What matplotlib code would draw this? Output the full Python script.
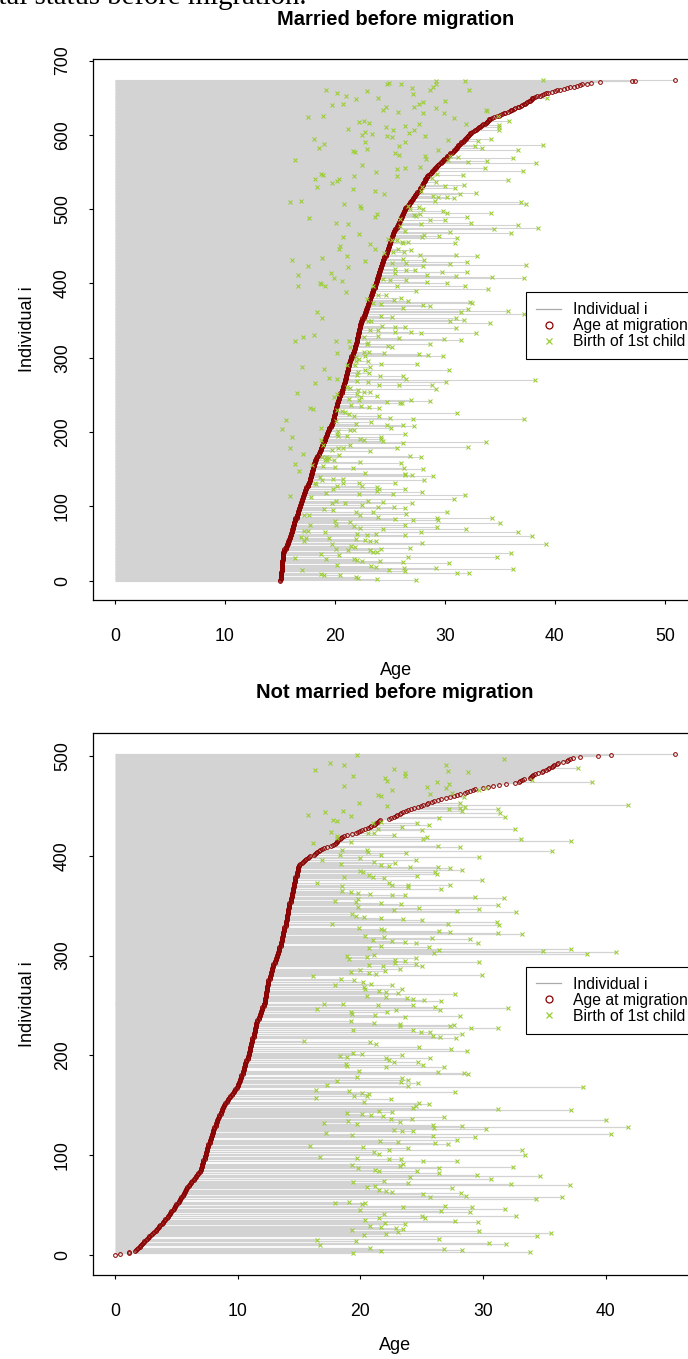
import numpy as np
import matplotlib
matplotlib.use("Agg")
import matplotlib.pyplot as plt
from matplotlib.lines import Line2D

plt.rcParams["font.family"] = ["Liberation Sans", "DejaVu Sans"]

W, H = 688, 1359

# ---------------------------------------------------------------------------
# Married before migration: age at migration per individual (sorted)
mig_married = [
    15.0, 15.0, 15.1, 15.1, 15.1,
    15.1, 15.1, 15.1, 15.1, 15.1, 15.1, 15.1, 15.1,
    15.2, 15.2, 15.2, 15.2, 15.2, 15.2, 15.2, 15.2, 15.2, 15.2, 15.2, 15.2, 15.2, 15.2, 15.2,
    15.3, 15.3, 15.3, 15.3, 15.3, 15.3, 15.3, 15.3, 15.3, 15.3,
    15.3, 15.4, 15.4, 15.4, 15.4, 15.5, 15.5, 15.5, 15.5, 15.6, 15.6, 15.6, 15.7, 15.7, 15.7, 15.7,
    15.8, 15.8, 15.8, 15.9, 15.9, 15.9, 15.9, 16.0, 16.0, 16.0, 16.0,
    16.1, 16.1, 16.1, 16.1, 16.1, 16.2, 16.2, 16.2, 16.2, 16.2, 16.3, 16.3, 16.3, 16.3, 16.3,
    16.4, 16.4, 16.4, 16.4, 16.4, 16.5, 16.5, 16.5, 16.5, 16.5, 16.6, 16.6, 16.6, 16.6, 16.6,
    16.7, 16.7, 16.7, 16.7, 16.8, 16.8,
    16.8, 16.8, 16.9, 16.9, 16.9, 16.9, 17.0, 17.0, 17.0, 17.0, 17.1, 17.1, 17.1, 17.1,
    17.2, 17.2, 17.2, 17.2, 17.3, 17.3, 17.3, 17.3, 17.4, 17.4, 17.4, 17.4, 17.5, 17.5, 17.5, 17.5,
    17.6, 17.6, 17.6, 17.7, 17.7,
    17.7, 17.7, 17.7, 17.8, 17.8, 17.8, 17.8, 17.8, 17.9, 17.9, 17.9, 17.9, 17.9,
    18.0, 18.0, 18.0, 18.0, 18.0, 18.1, 18.1, 18.1, 18.1, 18.1, 18.2, 18.2, 18.2, 18.2,
    18.3, 18.3, 18.3, 18.4, 18.4, 18.4, 18.5, 18.5, 18.5, 18.5, 18.6, 18.6, 18.6,
    18.7, 18.7, 18.7, 18.7, 18.8, 18.8, 18.8, 18.9, 18.9, 18.9,
    19.0, 19.0, 19.0, 19.1, 19.1, 19.1, 19.1, 19.2, 19.2, 19.2, 19.3, 19.3, 19.3, 19.3,
    19.4, 19.4, 19.4, 19.5, 19.5, 19.5, 19.5, 19.6, 19.6, 19.6, 19.7, 19.7, 19.7,
    19.8, 19.8, 19.8, 19.8, 19.8, 19.9, 19.9, 19.9, 19.9, 19.9, 19.9, 20.0, 20.0, 20.0, 20.0, 20.0, 20.0,
    20.1, 20.1, 20.1, 20.1, 20.1, 20.2, 20.2, 20.2, 20.2, 20.2, 20.3, 20.3, 20.3, 20.3,
    20.4, 20.4, 20.4, 20.4, 20.5, 20.5, 20.5, 20.5, 20.5, 20.6, 20.6, 20.6, 20.6, 20.6,
    20.7, 20.7, 20.7, 20.7, 20.7, 20.8, 20.8, 20.8, 20.8, 20.9, 20.9, 20.9, 20.9,
    20.9, 21.0, 21.0, 21.0, 21.0, 21.0, 21.0, 21.1, 21.1, 21.1, 21.1, 21.1,
    21.2, 21.2, 21.2, 21.2, 21.2, 21.2, 21.3, 21.3, 21.3, 21.3, 21.3, 21.4, 21.4, 21.4, 21.4,
    21.5, 21.5, 21.5, 21.5, 21.5, 21.6, 21.6, 21.6, 21.6, 21.6, 21.7, 21.7, 21.7, 21.7,
    21.8, 21.8, 21.8, 21.8, 21.8, 21.9, 21.9, 21.9, 21.9, 22.0, 22.0, 22.0, 22.0,
    22.0, 22.0, 22.0, 22.1, 22.1, 22.1, 22.1, 22.1, 22.1, 22.2, 22.2, 22.2, 22.2, 22.2, 22.2,
    22.3, 22.3, 22.3, 22.3, 22.3, 22.3,
    22.4, 22.4, 22.4, 22.4, 22.5, 22.5, 22.5, 22.5, 22.6, 22.6, 22.6, 22.6, 22.7, 22.7, 22.7, 22.7,
    22.8, 22.8, 22.8, 22.8, 22.9, 22.9, 22.9, 22.9, 23.0, 23.0, 23.0, 23.0, 23.1, 23.1, 23.1, 23.1,
    23.2, 23.2, 23.2, 23.2, 23.3, 23.3, 23.3, 23.4, 23.4, 23.4, 23.4, 23.5, 23.5, 23.5,
    23.5, 23.5, 23.6, 23.6, 23.6, 23.6, 23.6, 23.7, 23.7, 23.7, 23.7, 23.8, 23.8, 23.8, 23.8, 23.8,
    23.9, 23.9, 23.9, 23.9, 24.0, 24.0, 24.0, 24.0, 24.0, 24.1, 24.1, 24.1, 24.1,
    24.2, 24.2, 24.2, 24.2, 24.3, 24.3, 24.3, 24.3, 24.4, 24.4, 24.4,
    24.4, 24.5, 24.5, 24.5, 24.5, 24.6, 24.6, 24.6, 24.6, 24.7, 24.7, 24.7, 24.7,
    24.8, 24.8, 24.8, 24.8, 24.9, 24.9, 24.9, 24.9, 25.0, 25.0, 25.0, 25.0,
    25.1, 25.1, 25.1, 25.1, 25.2, 25.2, 25.2, 25.2, 25.3, 25.3, 25.3, 25.3,
    25.4, 25.4, 25.4, 25.5, 25.5, 25.5, 25.6, 25.6, 25.6, 25.7, 25.7, 25.7, 25.8, 25.8, 25.8,
    25.9, 25.9, 25.9, 26.0, 26.0, 26.0, 26.1, 26.1, 26.1, 26.2, 26.2, 26.2, 26.3, 26.3, 26.3,
    26.4, 26.4, 26.4, 26.5, 26.5,
    26.6, 26.6, 26.7, 26.7, 26.8, 26.8, 26.9, 26.9, 27.0, 27.0, 27.1, 27.1, 27.2, 27.2,
    27.3, 27.3, 27.4, 27.4,
    27.5, 27.5, 27.6, 27.6, 27.7, 27.7, 27.7, 27.8, 27.8, 27.9, 27.9, 28.0, 28.0, 28.0,
    28.1, 28.1, 28.2, 28.2, 28.2, 28.3, 28.3, 28.4, 28.4, 28.5, 28.5, 28.6, 28.6,
    28.7, 28.8, 28.8, 28.9, 29.0, 29.0, 29.1, 29.2, 29.2, 29.3, 29.4, 29.4, 29.5, 29.6, 29.6,
    29.7, 29.8, 29.8,
    29.9, 30.0, 30.1, 30.2, 30.2, 30.3, 30.4, 30.5, 30.5, 30.6, 30.7, 30.8, 30.8, 30.9, 31.0,
    31.0, 31.1, 31.1,
    31.2, 31.2, 31.3, 31.4, 31.5, 31.5, 31.6, 31.7, 31.7, 31.8, 31.9, 31.9, 32.0, 32.1, 32.1,
    32.2, 32.3, 32.3,
    32.4, 32.5, 32.6, 32.7, 32.8, 32.9, 33.0, 33.1, 33.2, 33.3, 33.4, 33.5, 33.6, 33.7, 33.8,
    33.8, 33.9, 34.0, 34.0, 34.1,
    34.3, 34.5, 34.7, 34.9, 35.0, 35.2, 35.4, 35.5, 35.7, 35.9, 36.0,
    36.1, 36.3, 36.4, 36.6, 36.7, 36.9, 37.0, 37.2, 37.3,
    37.4, 37.5, 37.6, 37.7, 37.8, 37.9, 37.9, 38.0,
    38.2, 38.4, 38.6, 38.8, 39.0, 39.2,
    39.4, 39.7, 40.0, 40.2, 40.5, 40.8, 41.1, 41.4,
    41.7, 42.0, 42.3, 42.5, 42.9, 43.3, 44.1, 47.0, 47.3, 50.9,
]

# Married: individual index and age at birth of first child
child_idx_married = [
    349, 350, 349, 351, 347, 343, 342, 342, 340, 337, 337, 335, 335, 334, 333,
    323, 328, 331, 322, 322, 328, 329, 326, 319, 325, 324, 319, 320, 316, 315,
    314, 307, 308, 308, 306, 305, 304, 302, 301, 298, 302, 295, 295, 292, 291,
    290, 290, 288, 287, 285, 284, 281, 283, 279, 273, 272, 277, 276, 275, 271,
    269, 268, 267, 270, 266, 264, 263, 263, 261, 260, 257, 254, 254, 258, 252,
    251, 247, 251, 247, 249, 245, 243, 240, 239, 239, 243, 242, 236, 235, 234,
    233, 232, 231, 230, 228, 227, 225, 222, 221, 219, 218, 226, 217, 216, 215,
    214, 204, 206, 211, 210, 205, 209, 208, 202, 203, 203, 193, 189, 198, 195,
    195, 191, 189, 194, 191, 188, 198, 179, 182, 176, 178, 179, 183, 178, 185,
    180, 186, 174, 171, 167, 167, 165, 169, 168, 167, 163, 163, 163, 157, 156,
    155, 153, 151, 160, 158, 151, 150, 147, 140, 136, 137, 137, 145, 144, 142,
    142, 141, 136, 131, 130, 128, 132, 132, 127, 131, 124, 126, 123, 114, 113,
    118, 123, 117, 121, 116, 119, 115, 110, 104, 107, 104, 102, 107, 106, 99,
    105, 95, 96, 93, 92, 99, 98, 90, 88, 89, 88, 86, 83, 82, 84,
    93, 82, 84, 77, 75, 80, 75, 79, 74, 71, 70, 75, 72, 69, 67,
    67, 66, 59, 54, 57, 57, 63, 62, 63, 61, 66, 65, 60, 56, 55,
    54, 53, 51, 50, 49, 43, 41, 47, 46, 41, 38, 38, 43, 44, 36,
    37, 35, 29, 30, 29, 28, 27, 27, 25, 32, 24, 32, 21, 20, 19,
    15, 14, 17, 13, 17, 11, 10, 16, 9, 8, 7, 5, 4, 2, 1,
    668, 670, 669, 663, 661, 665, 669, 672, 673, 661, 674, 649, 660, 657, 653,
    648, 659, 649, 655, 642, 644, 645, 640, 642, 633, 638, 631, 637, 636, 630,
    629, 623, 634, 632, 624, 626, 617, 619, 616, 612, 615, 615, 625, 619, 611,
    607, 613, 608, 611, 606, 607, 600, 604, 601, 598, 597, 602, 599, 594, 588,
    582, 591, 581, 585, 590, 593, 592, 594, 585, 583, 580, 587, 578, 577, 576,
    573, 579, 566, 559, 572, 568, 557, 556, 554, 571, 566, 570, 563, 565, 555,
    569, 552, 562, 541, 548, 546, 535, 538, 540, 544, 550, 545, 542, 547, 537,
    546, 539, 530, 527, 524, 520, 524, 530, 531, 529, 533, 518, 516, 516, 520,
    515, 522, 509, 511, 507, 504, 502, 504, 500, 503, 500, 511, 497, 495, 495,
    510, 507, 488, 482, 480, 494, 490, 487, 492, 491, 493, 480, 485, 485, 489,
    482, 474, 479, 475, 478, 470, 463, 466, 453, 447, 460, 459, 459, 456, 454,
    456, 463, 465, 464, 469, 454, 461, 468, 446, 450, 437, 430, 441, 443, 446,
    443, 445, 433, 427, 439, 432, 438, 437, 431, 434, 424, 422, 428, 420, 414,
    418, 418, 423, 411, 426, 429, 415, 416, 425, 412, 397, 400, 399, 396, 414,
    407, 403, 388, 397, 406, 405, 396, 405, 390, 402, 401, 410, 409, 408, 393,
    396, 361, 353, 379, 374, 384, 373, 384, 378, 380, 376, 371, 370, 367, 375,
    374, 365, 362, 363, 359, 356, 355, 354,
]
child_age_married = [
    23.0, 23.3, 30.5, 31.7, 34.1, 24.3, 25.5, 26.4, 31.0, 23.2, 23.9, 25.5, 26.9, 27.8, 32.8,
    16.4, 17.1, 18.1, 20.1, 21.3, 22.6, 23.9, 25.8, 28.6, 29.9, 31.5, 22.9, 23.0, 24.8, 25.2,
    21.4, 20.2, 22.6, 23.1, 24.5, 27.6, 28.5, 29.8, 21.9, 22.2, 22.7, 21.9, 23.0, 24.2, 27.5,
    21.1, 21.8, 23.2, 17.0, 19.0, 22.7, 22.1, 30.4, 23.1, 19.5, 20.2, 22.0, 24.1, 26.2, 26.5,
    22.0, 23.0, 30.1, 38.2, 18.2, 24.0, 25.8, 28.8, 21.1, 21.4, 22.1, 22.6, 23.2, 29.2, 16.5,
    20.2, 19.9, 22.0, 22.4, 23.8, 21.3, 22.2, 24.7, 25.9, 26.1, 26.9, 28.6, 21.5, 22.4, 23.1,
    24.0, 17.7, 18.0, 20.2, 20.6, 20.9, 21.3, 21.7, 24.0, 25.0, 27.1, 31.1, 37.2, 15.5, 20.1,
    23.3, 15.2, 18.7, 21.9, 24.7, 25.1, 26.2, 27.2, 20.3, 21.4, 21.7, 16.1, 18.7, 20.2, 21.1,
    20.3, 22.3, 22.6, 24.2, 24.2, 24.4, 26.4, 15.9, 18.9, 19.7, 20.3, 20.7, 21.4, 25.6, 26.2,
    32.1, 33.7, 23.2, 17.1, 18.8, 19.2, 19.5, 20.4, 26.8, 27.8, 19.1, 19.3, 19.9, 16.4, 17.9,
    18.9, 20.0, 21.6, 22.3, 26.0, 26.3, 28.0, 16.7, 18.6, 18.8, 19.8, 20.7, 22.7, 26.4, 26.4,
    27.0, 28.9, 28.1, 18.2, 18.3, 20.2, 20.7, 22.2, 22.5, 25.5, 26.4, 23.8, 24.0, 15.9, 17.8,
    19.2, 19.8, 22.2, 23.8, 25.3, 27.9, 31.8, 30.8, 19.7, 20.1, 20.9, 22.5, 23.0, 24.4, 25.4,
    27.0, 19.8, 19.0, 21.9, 23.5, 23.9, 26.4, 26.5, 17.2, 17.6, 22.3, 23.9, 25.5, 27.1, 29.3,
    30.2, 29.4, 34.3, 35.0, 17.7, 20.0, 20.1, 21.4, 21.7, 22.3, 24.4, 26.4, 29.3, 31.9, 17.2,
    17.5, 19.1, 16.9, 17.2, 17.4, 19.5, 22.0, 22.9, 23.7, 26.4, 27.8, 36.6, 37.9, 21.9, 22.7,
    23.2, 23.7, 27.9, 39.2, 19.7, 20.1, 21.2, 21.5, 21.8, 23.2, 23.5, 23.8, 24.2, 26.8, 18.7,
    36.0, 20.4, 21.7, 16.4, 19.2, 22.0, 22.5, 24.1, 26.2, 26.6, 30.4, 34.7, 20.2, 23.3, 23.7,
    17.0, 24.9, 26.3, 26.4, 29.2, 31.1, 32.2, 36.2, 18.7, 19.0, 20.5, 21.9, 22.1, 23.8, 27.4,
    24.7, 24.9, 26.0, 27.0, 28.6, 28.9, 29.2, 29.2, 31.8, 32.2, 38.9, 39.3, 19.2, 20.2, 21.0,
    21.9, 22.9, 23.9, 27.1, 27.6, 28.0, 30.0, 19.7, 20.7, 24.4, 24.6, 25.7, 27.2, 29.2, 28.0,
    29.9, 30.8, 33.7, 33.8, 17.5, 18.9, 22.2, 22.6, 23.1, 26.4, 27.6, 31.9, 34.8, 35.8, 34.9,
    34.9, 34.9, 21.2, 24.6, 25.3, 27.2, 22.5, 22.7, 23.4, 24.7, 25.2, 26.7, 28.2, 18.1, 19.0,
    18.5, 22.7, 22.9, 25.8, 26.4, 30.3, 33.0, 34.2, 32.7, 33.4, 36.6, 38.9, 21.6, 21.8, 25.5,
    25.8, 29.4, 16.4, 22.5, 28.2, 28.3, 27.7, 26.4, 25.6, 30.5, 30.3, 31.2, 32.1, 33.8, 33.6,
    36.2, 37.1, 38.3, 18.2, 18.7, 18.9, 19.7, 20.2, 20.4, 21.7, 23.7, 25.6, 28.8, 29.3, 29.2,
    31.6, 35.7, 18.4, 21.6, 23.6, 24.5, 27.8, 27.9, 30.0, 30.9, 31.7, 28.9, 29.4, 30.2, 31.4,
    30.8, 32.8, 15.9, 16.9, 20.8, 22.3, 22.4, 26.6, 26.8, 27.6, 28.0, 29.1, 29.8, 30.2, 34.2,
    36.9, 37.4, 17.6, 20.1, 21.2, 23.8, 23.6, 25.9, 27.2, 27.4, 27.7, 27.8, 28.6, 30.0, 32.0,
    32.4, 34.5, 36.6, 38.5, 25.9, 26.4, 20.7, 22.2, 23.2, 23.6, 24.8, 25.2, 25.6, 26.1, 26.2,
    26.6, 27.9, 28.1, 29.5, 30.5, 30.9, 31.1, 36.0, 20.4, 20.5, 21.1, 22.7, 24.5, 25.3, 25.7,
    26.3, 26.9, 26.2, 26.5, 27.7, 28.1, 31.0, 32.9, 16.1, 18.8, 17.5, 21.2, 25.2, 25.5, 25.5,
    26.5, 27.3, 28.0, 28.4, 30.5, 32.0, 32.0, 29.7, 37.4, 16.6, 16.6, 18.6, 18.7, 19.1, 19.6,
    19.9, 20.6, 21.0, 23.5, 24.4, 25.0, 25.6, 26.5, 27.4, 28.4, 30.2, 31.0, 34.3, 37.2, 33.9,
    31.8, 18.4, 18.8, 22.9, 23.5, 23.9, 24.2, 24.6, 25.4, 26.0, 26.6, 28.0, 28.6, 26.2, 32.3,
    32.5, 32.1, 31.5, 35.7, 37.2, 24.2, 25.2, 31.0,
]

# ---------------------------------------------------------------------------
# Not married before migration: age at migration per individual (sorted)
mig_single = [
    0.0, 0.4, 1.1, 1.1,
    1.6, 1.7, 1.8, 1.9, 2.0, 2.0,
    2.1, 2.2, 2.3, 2.4, 2.4, 2.5, 2.6, 2.7, 2.8, 2.8, 2.9, 3.0, 3.1,
    3.2, 3.3, 3.3, 3.4, 3.5, 3.6, 3.6, 3.7, 3.8, 3.9, 3.9, 4.0, 4.1, 4.1, 4.2,
    4.3, 4.3, 4.4, 4.5, 4.5, 4.6, 4.6, 4.7, 4.8, 4.8, 4.9, 4.9, 5.0, 5.0, 5.1, 5.2, 5.2, 5.3, 5.3,
    5.4, 5.4, 5.5, 5.5, 5.6, 5.6, 5.7, 5.7, 5.8, 5.8, 5.9, 5.9, 6.0, 6.0, 6.1,
    6.2, 6.2, 6.3, 6.4, 6.4, 6.5, 6.6, 6.6, 6.7, 6.8, 6.8, 6.9,
    6.9, 7.0, 7.0, 7.0, 7.1, 7.1, 7.1, 7.1, 7.2, 7.2, 7.2, 7.2, 7.3, 7.3, 7.3,
    7.3, 7.4, 7.4, 7.4, 7.4, 7.5, 7.5, 7.5, 7.5, 7.6, 7.6, 7.6, 7.6, 7.7, 7.7, 7.7, 7.7,
    7.8, 7.8, 7.8, 7.9, 7.9, 7.9, 8.0, 8.0, 8.0, 8.0, 8.1, 8.1, 8.1, 8.2, 8.2, 8.2, 8.2, 8.3, 8.3, 8.3,
    8.4, 8.4, 8.5, 8.5, 8.5, 8.6, 8.6, 8.6, 8.7, 8.7, 8.7, 8.8, 8.8,
    8.9, 8.9, 9.0, 9.0, 9.1, 9.1, 9.2, 9.2, 9.3, 9.4, 9.4, 9.5, 9.5, 9.6,
    9.7, 9.7, 9.8, 9.8, 9.9, 9.9, 10.0, 10.0, 10.0, 10.1, 10.1, 10.2, 10.2,
    10.2, 10.3, 10.3, 10.3, 10.3, 10.4, 10.4, 10.4, 10.4, 10.5, 10.5, 10.5, 10.5,
    10.6, 10.6, 10.6, 10.6, 10.7, 10.7, 10.7,
    10.8, 10.8, 10.8, 10.8, 10.9, 10.9, 10.9, 10.9, 11.0, 11.0, 11.0, 11.0, 11.0,
    11.1, 11.1, 11.1, 11.1,
    11.2, 11.2, 11.2, 11.2, 11.2, 11.3, 11.3, 11.3, 11.3, 11.3, 11.4, 11.4, 11.4, 11.4, 11.4,
    11.5, 11.5, 11.5, 11.5, 11.5,
    11.6, 11.6, 11.6, 11.7, 11.7, 11.7, 11.8, 11.8, 11.8, 11.9, 11.9, 11.9, 12.0, 12.0, 12.0, 12.0,
    12.1, 12.1, 12.1, 12.1,
    12.2, 12.2, 12.2, 12.2, 12.2, 12.2, 12.3, 12.3, 12.3, 12.3, 12.3, 12.3,
    12.4, 12.4, 12.4, 12.4, 12.4, 12.4, 12.5, 12.5, 12.5, 12.5, 12.5, 12.5,
    12.6, 12.6, 12.6, 12.6, 12.7, 12.7, 12.7, 12.7, 12.8, 12.8, 12.8, 12.8, 12.9, 12.9, 12.9, 12.9,
    13.0, 13.0, 13.0, 13.1, 13.1, 13.1, 13.2, 13.2, 13.2, 13.3, 13.3, 13.3, 13.4, 13.4,
    13.4, 13.4, 13.4, 13.5, 13.5, 13.5, 13.5, 13.5, 13.6, 13.6, 13.6, 13.6, 13.6,
    13.7, 13.7, 13.7, 13.7, 13.7, 13.8, 13.8, 13.8, 13.8, 13.8,
    13.9, 13.9, 13.9, 13.9, 13.9, 13.9, 14.0, 14.0, 14.0, 14.0, 14.0, 14.0,
    14.1, 14.1, 14.1, 14.1, 14.1,
    14.1, 14.2, 14.2, 14.2, 14.2, 14.2, 14.2, 14.3, 14.3, 14.3, 14.3, 14.3,
    14.4, 14.4, 14.4, 14.4, 14.4,
    14.5, 14.5, 14.5, 14.5, 14.5, 14.6, 14.6, 14.6, 14.6, 14.6, 14.7, 14.7, 14.7,
    14.7, 14.7, 14.7, 14.8, 14.8, 14.8, 14.8, 14.8, 14.9, 14.9, 14.9, 14.9, 14.9, 15.0, 15.0, 15.1,
    15.2, 15.3, 15.4, 15.5, 15.6, 15.7, 15.8, 15.9, 16.2, 16.3, 16.4, 16.5, 16.6, 16.7, 16.9,
    17.0, 17.3, 17.6, 17.8, 17.9,
    18.0, 18.1, 18.1, 18.2, 18.3, 18.4, 18.5, 18.7, 18.9, 19.3, 19.6, 19.8, 20.0, 20.1, 20.4,
    20.6, 20.8, 20.9, 21.1, 21.2,
    21.3, 21.4, 21.5, 21.6, 22.3, 22.5, 22.7, 22.9, 23.0, 23.2, 23.3, 23.5, 23.7, 23.9, 24.1,
    24.4, 24.7, 24.9, 25.1, 25.4,
    25.5, 25.8, 26.0, 26.3, 26.6, 27.0, 27.3, 27.6, 27.9, 28.1, 28.5, 28.7, 28.9, 29.2, 29.3,
    30.0, 30.4, 30.8, 31.3, 31.9,
    32.6, 32.9, 33.0, 33.2, 33.3, 33.8, 33.9, 34.0, 34.1, 34.2, 34.5, 34.8, 34.9, 35.1, 35.3,
    35.4, 35.6, 35.7, 35.8, 36.0,
    36.1, 36.5, 36.8, 36.9, 37.1, 37.3, 37.9, 39.4, 40.4, 45.6,
]

# Not married: individual index and age at birth of first child
child_idx_single = [
    497, 491, 485, 483, 480, 484, 474, 469, 472, 468, 462, 463, 466, 468, 459,
    453, 476, 488, 474, 451, 447, 448, 449, 445, 447, 443, 439, 438, 433, 431,
    429, 427, 426, 419, 417, 417, 415, 410, 409, 405, 403, 396, 399, 389, 389,
    388, 386, 384, 382, 380, 376, 371, 371, 369, 367, 361, 359, 358, 352, 348,
    345, 347, 351, 344, 337, 336, 334, 331, 332, 325, 324, 323, 322, 318, 317,
    314, 313, 313, 309, 306, 303, 305, 307, 302, 304, 295, 298, 292, 290, 294,
    281, 267, 262,
    258, 257, 256, 255, 250, 248, 245, 247, 238, 239, 231, 229, 230, 227, 227,
    225, 223, 223, 219, 218, 221, 217, 208, 206, 204, 200, 197, 193, 190, 188,
    183, 182, 181, 177, 175, 173, 172, 169, 168, 163, 152, 151, 149, 147, 146,
    145, 136, 138, 135, 133, 130, 127, 129, 126, 128, 124, 124, 119, 118, 121,
    112, 111, 115, 107, 105, 100, 96, 94, 94, 91, 89, 88, 84, 87, 82,
    80, 79, 78, 76, 72, 71, 70, 67, 61, 62, 59, 58, 56, 58, 48,
    49, 48, 44, 43, 46, 39, 37, 39, 34, 33, 31, 26, 24, 19, 22,
    16, 12, 11, 6, 5, 3,
    300, 297, 299, 301, 296, 293, 291, 290, 286, 284, 283, 282, 285, 287, 280,
    277, 276, 274, 272, 271, 269, 267, 271, 265, 264, 263, 260, 259, 252, 246,
    251, 250, 243, 241, 240, 243, 245, 234, 232, 229, 225, 214, 213, 211, 199,
    198, 202, 201, 197, 195, 193, 191, 189, 188, 184, 178, 174, 170, 165, 157,
    164, 159, 162, 159, 161, 153, 156, 142, 141, 140, 144, 139, 143, 132, 134,
    131, 136, 122, 120, 125, 109, 108, 114, 113, 98, 103, 101, 105, 97, 96,
    90, 87, 85, 84, 73, 74, 68, 69, 65, 64, 63, 52, 53, 45, 51,
    52, 35, 37, 41, 32, 29, 28, 27, 21, 23, 25, 20, 15, 10, 14,
    7, 4, 2,
    501, 493, 486, 491, 480, 487, 478, 475, 470, 466, 461, 460, 453, 450, 445,
    441, 444, 436, 435, 440, 424, 420, 418, 413, 433, 427, 423, 423, 434, 421,
    414, 406, 401, 406, 404, 396, 392, 398, 394, 401, 391, 390, 393, 385, 384,
    381, 379, 378, 379, 373, 373, 370, 365, 364, 363, 362, 361, 371, 355, 354,
    357, 353, 346, 349, 342, 340, 339, 332, 328, 338, 320, 316, 327, 326, 319,
    308, 310, 315,
]
child_age_single = [
    31.7, 27.0, 27.1, 23.6, 23.6, 28.8, 26.2, 25.4, 27.2, 27.0, 25.7, 27.5, 29.7, 30.2, 28.4,
    28.1, 34.0, 37.7, 38.9, 41.8, 27.2, 28.1, 28.5, 28.3, 31.2, 31.4, 31.8, 26.4, 24.6, 25.6,
    23.4, 32.6, 25.0, 25.4, 25.1, 33.1, 37.2, 26.3, 28.1, 35.6, 23.7, 24.5, 29.7, 24.0, 26.3,
    27.3, 28.3, 26.1, 26.2, 24.6, 29.9, 27.3, 23.9, 23.9, 26.6, 23.6, 29.3, 31.7, 23.3, 24.8,
    27.9, 29.7, 31.2, 32.7, 23.5, 25.0, 31.1, 31.3, 27.1, 26.4, 27.3, 31.2, 33.2, 25.8, 28.9,
    23.6, 24.5, 29.6, 25.6, 26.4, 26.0, 34.9, 37.2, 38.5, 40.8, 23.6, 24.5, 24.5, 25.0, 29.7,
    29.9, 23.4, 27.7,
    23.8, 24.3, 25.2, 26.6, 24.3, 26.1, 26.5, 32.0, 23.6, 28.1, 23.2, 27.3, 27.6, 29.0, 31.2,
    24.3, 24.9, 25.7, 25.9, 26.5, 28.3, 27.8, 24.8, 27.4, 28.7, 23.4, 25.7, 24.7, 25.1, 26.8,
    26.3, 28.4, 28.8, 23.4, 23.9, 23.3, 24.7, 23.9, 38.1, 27.7, 24.8, 25.6, 24.5, 24.3, 31.2,
    37.2, 24.2, 26.8, 40.0, 23.2, 25.9, 26.0, 28.3, 30.2, 41.8, 24.3, 23.4, 25.9, 29.3, 40.4,
    26.1, 27.1, 27.9, 23.9, 33.2, 33.4, 23.3, 25.1, 27.9, 23.5, 23.2, 32.4, 24.6, 26.4, 26.4,
    29.5, 34.6, 24.0, 30.6, 23.9, 32.3, 37.1, 27.5, 25.1, 28.2, 28.6, 25.7, 34.3, 36.4, 23.5,
    26.9, 29.1, 26.6, 28.9, 31.8, 25.0, 25.3, 32.7, 27.7, 29.6, 23.6, 23.5, 29.7, 34.4, 35.5,
    26.4, 30.5, 31.9, 26.8, 28.3, 33.8,
    18.9, 19.1, 20.5, 21.1, 22.8, 22.8, 20.7, 21.8, 20.0, 19.2, 20.7, 21.3, 22.0, 23.2, 16.1,
    18.4, 19.5, 20.2, 20.9, 17.9, 20.3, 20.4, 22.6, 21.5, 22.1, 23.1, 20.5, 22.1, 17.0, 16.5,
    18.6, 21.4, 19.2, 19.3, 21.2, 22.2, 22.9, 19.2, 21.1, 23.2, 19.4, 15.4, 20.8, 21.3, 18.3,
    18.9, 19.4, 20.1, 22.1, 22.3, 22.7, 18.8, 18.9, 22.1, 19.9, 19.7, 18.1, 17.3, 16.4, 16.4,
    19.1, 19.5, 20.1, 20.5, 20.7, 20.3, 22.5, 18.9, 20.1, 20.9, 21.5, 21.8, 22.6, 17.0, 19.0,
    19.7, 22.5, 17.2, 19.3, 22.7, 15.9, 20.2, 21.6, 23.1, 16.7, 21.1, 21.5, 22.3, 19.7, 22.3,
    19.3, 19.8, 21.2, 21.5, 19.4, 21.9, 20.5, 21.2, 21.5, 22.1, 22.6, 17.9, 19.1, 20.0, 20.1,
    20.4, 20.4, 21.5, 21.9, 22.0, 20.8, 21.7, 22.9, 22.1, 23.1, 19.3, 20.3, 16.5, 16.7, 19.6,
    20.8, 21.7, 19.4,
    19.7, 17.5, 16.3, 18.7, 19.4, 22.7, 22.0, 22.2, 18.7, 22.6, 21.4, 21.7, 19.9, 22.2, 18.6,
    15.7, 17.1, 17.8, 18.1, 19.2, 17.6, 18.1, 18.1, 16.1, 21.0, 21.4, 20.6, 21.1, 21.7, 22.7,
    19.2, 18.5, 18.3, 20.5, 20.6, 16.9, 18.4, 20.0, 21.1, 21.7, 21.7, 22.3, 22.8, 20.0, 20.2,
    20.7, 21.0, 21.9, 18.7, 16.5, 22.3, 18.5, 18.5, 19.2, 19.8, 20.8, 22.6, 22.6, 17.9, 19.6,
    19.8, 21.7, 22.7, 19.8, 19.3, 19.6, 20.3, 17.7, 19.9, 21.7, 20.4, 21.0, 21.7, 21.9, 21.9,
    20.7, 21.7, 22.6,
]

panel_titles = ["Married before migration", "Not married before migration"]
x_label = "Age"
y_label = "Individual i"
legend_labels = ["Individual i", "Age at migration", "Birth of 1st child"]
xticks_married = [0, 10, 20, 30, 40, 50]
yticks_married = [0, 100, 200, 300, 400, 500, 600, 700]
xticks_single = [0, 10, 20, 30, 40]
yticks_single = [0, 100, 200, 300, 400, 500]
caption_tail = "marital status before migration."

LINE_COL = "#d3d3d3"
MIG_COL = "#8b0000"
CHILD_COL = "#9acd32"

fig = plt.figure(figsize=(W / 100, H / 100), dpi=100)


def fx(px):
    return px / W


def fy(py):
    return 1 - py / H


def draw_panel(box, xlim, ylim, mig, cidx, cage, xticks, yticks, title,
               title_base, xlab_base, ylab_mid, leg_top, lw):
    left, top, right, bottom = box
    ax = fig.add_axes([fx(left), fy(bottom), (right - left) / W, (bottom - top) / H])

    mig = np.asarray(mig, float)
    idx = np.asarray(cidx, int)
    age = np.asarray(cage, float)
    ind = np.arange(len(mig))
    # each individual's line runs from 0 to the later of migration / first birth
    end = mig.copy()
    np.maximum.at(end, idx, age)

    ax.hlines(ind, 0, end, colors=LINE_COL, linewidth=lw, zorder=1)
    ax.plot(mig, ind, ls="none", marker="o", ms=2.7, mfc="none",
            mec=MIG_COL, mew=0.7, zorder=2)
    ax.plot(age, idx, ls="none", marker="x", ms=3.1, color=CHILD_COL,
            mew=0.75, zorder=3)

    ax.set_xlim(*xlim)
    ax.set_ylim(*ylim)
    ax.set_xticks(xticks)
    ax.set_yticks(yticks)
    ax.tick_params(direction="out", length=3.2, width=0.8, labelsize=12.7,
                   color="black")
    ax.tick_params(axis="x", pad=17.3)
    ax.tick_params(axis="y", pad=12.5)
    for lab in ax.get_yticklabels():
        lab.set_rotation(90)
        lab.set_va("center")
    for s in ax.spines.values():
        s.set_linewidth(0.9)
        s.set_color("black")

    cx = (left + right) / 2
    fig.text(fx(cx), fy(title_base), title, ha="center", va="baseline",
             fontsize=14.5, fontweight="bold")
    fig.text(fx(cx), fy(xlab_base), x_label, ha="center", va="baseline",
             fontsize=13)
    fig.text(fx(31.5), fy(ylab_mid), y_label, rotation=90,
             rotation_mode="anchor", ha="center", va="baseline", fontsize=13)

    handles = [
        Line2D([], [], color="#aaaaaa", lw=0.9),
        Line2D([], [], ls="none", marker="o", ms=5, mfc="none", mec=MIG_COL, mew=0.9),
        Line2D([], [], ls="none", marker="x", ms=5, color=CHILD_COL, mew=0.9),
    ]
    leg = ax.legend(handles, legend_labels, loc="upper left",
                    bbox_to_anchor=(fx(526), fy(leg_top)),
                    bbox_transform=fig.transFigure, fontsize=11.3,
                    frameon=True, fancybox=False, edgecolor="black",
                    framealpha=1, borderpad=0.64, labelspacing=0.07,
                    handlelength=1.6, handletextpad=0.75, borderaxespad=0)
    leg.get_frame().set_linewidth(0.8)
    return ax


draw_panel((92.7, 59.1, 698.5, 600.0), (-2.03, 53.05), (-26, 702),
           mig_married, child_idx_married, child_age_married,
           xticks_married, yticks_married, panel_titles[0],
           25, 675, 329.5, 292, 0.8)

draw_panel((92.7, 733.0, 696.9, 1275.0), (-1.82, 47.42), (-20, 523),
           mig_single, child_idx_single, child_age_single,
           xticks_single, yticks_single, panel_titles[1],
           698.3, 1349.5, 1004, 966.7, 0.9)

fig.text(fx(307), fy(4), caption_tail, ha="right", va="baseline",
         fontsize=20.7, family=["Liberation Serif", "DejaVu Serif"])

fig.savefig("out.png", dpi=100)
